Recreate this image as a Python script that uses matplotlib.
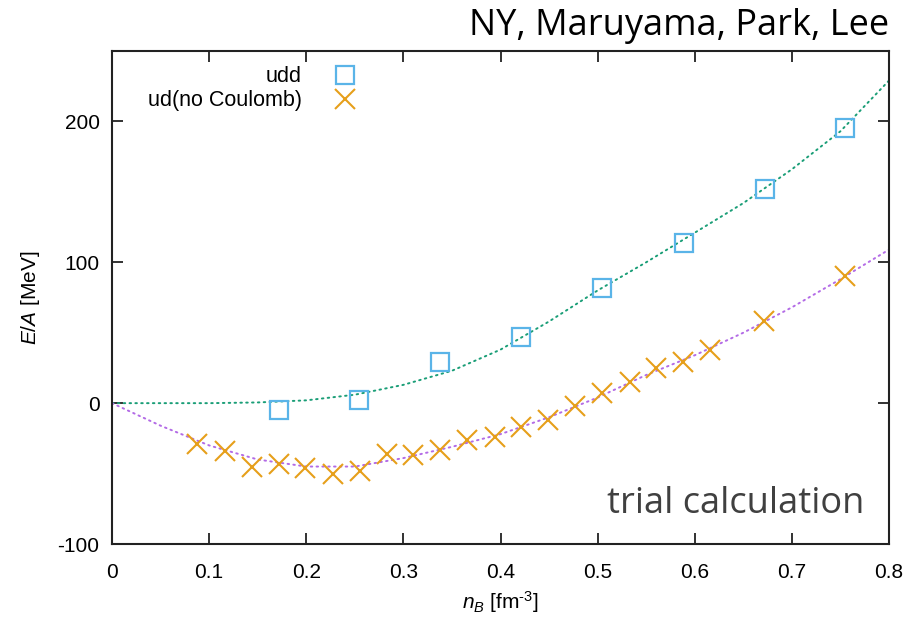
import matplotlib
matplotlib.use("Agg")
import matplotlib.pyplot as plt

# udd (squares)
udd_n = [0.172, 0.254, 0.338, 0.421, 0.504, 0.589, 0.672, 0.755]
udd_e = [-5, 2, 29, 47, 82, 114, 152, 195]

# ud, no Coulomb (crosses)
ud_n = [0.088, 0.116, 0.144, 0.172, 0.199, 0.228, 0.255, 0.283, 0.310, 0.338,
        0.366, 0.394, 0.421, 0.449, 0.477, 0.505, 0.533, 0.560, 0.588, 0.616,
        0.671, 0.755]
ud_e = [-29, -34, -45, -43, -46, -50, -48, -36, -37, -33,
        -26, -24, -17, -12, -2, 7, 15, 25, 29, 38,
        58, 90]

# fitted curves
fit_n = [0.0, 0.05, 0.1, 0.15, 0.2, 0.25, 0.3, 0.35, 0.4, 0.45,
         0.5, 0.55, 0.6, 0.65, 0.7, 0.75, 0.8]
fit_udd = [0, 0, 0, 0.5, 2, 6, 13, 23, 38, 58,
           80, 100, 121, 142, 166, 193, 229]
fit_ud = [0, -16, -30, -40, -45, -45, -39, -31, -22, -10,
          4, 20, 34, 50, 68, 88, 109]

xticks = [0, 0.1, 0.2, 0.3, 0.4, 0.5, 0.6, 0.7, 0.8]
xticklabels = ["0", "0.1", "0.2", "0.3", "0.4", "0.5", "0.6", "0.7", "0.8"]
yticks = [-100, 0, 100, 200]

plt.rcParams["font.family"] = ["Liberation Sans", "DejaVu Sans"]
plt.rcParams["axes.unicode_minus"] = False
plt.rcParams["mathtext.fontset"] = "custom"
plt.rcParams["mathtext.it"] = "Liberation Sans:italic"
plt.rcParams["mathtext.rm"] = "Liberation Sans"

fig = plt.figure(figsize=(9.13, 6.18), dpi=100)
ax = fig.add_axes([0.1227, 0.1197, 0.851, 0.7978])

ax.plot(fit_n, fit_udd, color="#1a9e77", lw=1.4, ls=(0, (0.8, 2.2)),
        dash_capstyle="round")
ax.plot(fit_n, fit_ud, color="#b36be6", lw=1.4, ls=(0, (0.8, 2.2)),
        dash_capstyle="round")
ax.plot(udd_n, udd_e, ls="none", marker="s", ms=13, mfc="none",
        mec="#5ab4e8", mew=1.6, label="udd")
ax.plot(ud_n, ud_e, ls="none", marker="x", ms=14, color="#e69f1a",
        mew=1.5, label="ud(no Coulomb)")

ax.set_xlim(0, 0.8)
ax.set_ylim(-100, 250)
ax.set_xticks(xticks)
ax.set_xticklabels(xticklabels)
ax.set_yticks(yticks)
ax.tick_params(direction="in", length=8, width=1.3, labelsize=15,
               top=True, right=True, color="#222222", labelcolor="black")
ax.tick_params(axis="x", pad=14)
ax.tick_params(axis="y", pad=9)
for s in ax.spines.values():
    s.set_linewidth(1.5)
    s.set_color("#222222")

ax.set_xlabel(r"$n_B$ [fm$^{\text{-3}}$]", fontsize=15, labelpad=5)
ax.set_ylabel(r"$E/A$ [MeV]", fontsize=15, labelpad=11)

ax.legend(loc="upper left", bbox_to_anchor=(0.027, 1.0), markerfirst=False,
          frameon=False, fontsize=15.5, handlelength=1.0, handletextpad=1.5,
          labelspacing=0.15, borderaxespad=0.3)

fig.text(0.974, 0.943, "NY, Maruyama, Park, Lee", ha="right", va="baseline",
         fontsize=26, family="Open Sans", color="black")
ax.text(0.968, 0.063, "trial calculation", ha="right", va="baseline",
        transform=ax.transAxes, fontsize=26, family="Open Sans",
        color="#404040")

fig.savefig("out.png", dpi=100)
